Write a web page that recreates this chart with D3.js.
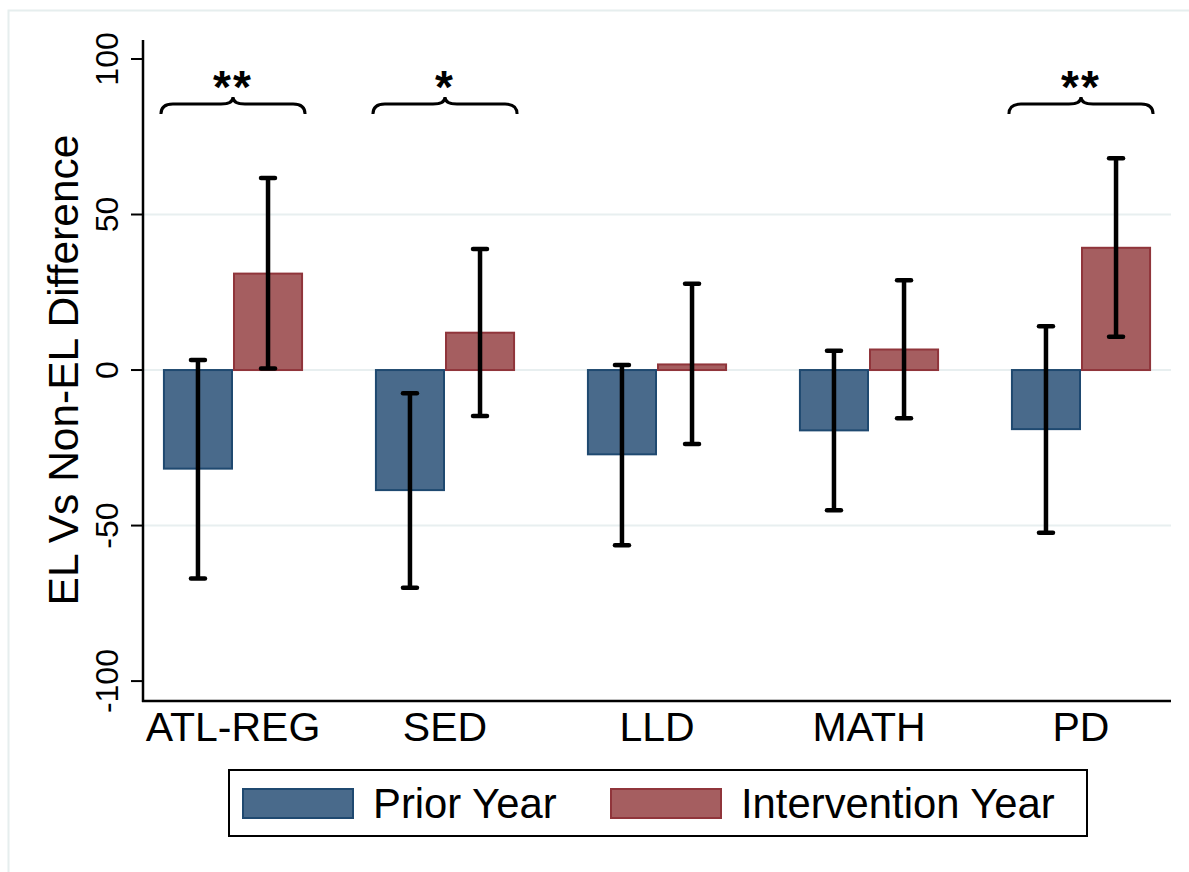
<!DOCTYPE html>
<html>
<head>
<meta charset="utf-8">
<script src="https://cdn.jsdelivr.net/npm/d3@7"></script>
<style>
  html, body { margin: 0; padding: 0; background: #fff; }
  svg { display: block; font-family: "Liberation Sans", Arial, Helvetica, sans-serif; }
</style>
</head>
<body>
<svg id="chart" width="1189" height="872"></svg>
<script>
// ---- data ----
const categories = ["ATL-REG", "SED", "LLD", "MATH", "PD"];
const seriesNames = ["Prior Year", "Intervention Year"];
const priorValues = [-31.7, -38.6, -27.1, -19.4, -19.0];
const priorLow    = [-67.0, -70.0, -56.3, -45.1, -52.3];
const priorHigh   = [3.2, -7.5, 1.6, 6.2, 14.1];
const interValues = [31.0, 12.0, 1.8, 6.6, 39.3];
const interLow    = [0.5, -14.8, -23.8, -15.5, 10.7];
const interHigh   = [61.7, 38.9, 27.7, 28.9, 68.1];
const significance = ["**", "*", "", "", "**"];
const yTicks = [-100, -50, 0, 50, 100];
const yGrid = [-50, 0, 50];
const yTitle = "EL Vs Non-EL Difference";

// ---- layout ----
const svg = d3.select("#chart");
const plot = { left: 143, right: 1171, top: 40, bottom: 701 };
const colors = {
  fill: ["#496a8b", "#a55e60"],
  stroke: ["#1f4970", "#90353b"]
};

// outer faint frame
svg.append("rect").attr("x", 8.5).attr("y", 10.5).attr("width", 1200).attr("height", 900)
  .attr("fill", "none").attr("stroke", "#e6eeee").attr("stroke-width", 2);

const x = d3.scaleBand().domain(categories).range([plot.left, plot.right])
  .paddingInner(0.339).paddingOuter(0.094);
const xs = d3.scaleBand().domain(seriesNames).range([0, x.bandwidth()]);
const y = d3.scaleLinear().domain([-106.4, 106.1]).range([plot.bottom, plot.top]);

// gridlines
svg.append("g").selectAll("line").data(yGrid).join("line")
  .attr("x1", plot.left).attr("x2", plot.right)
  .attr("y1", d => y(d)).attr("y2", d => y(d))
  .attr("stroke", "#e8eff0").attr("stroke-width", 2);

// bars
const rows = categories.map((c, i) => [
  { cat: c, s: 0, v: priorValues[i], lo: priorLow[i], hi: priorHigh[i] },
  { cat: c, s: 1, v: interValues[i], lo: interLow[i], hi: interHigh[i] }
]).flat();

svg.append("g").selectAll("rect").data(rows).join("rect")
  .attr("x", d => x(d.cat) + xs(seriesNames[d.s]) + 1)
  .attr("width", xs.bandwidth() - 2)
  .attr("y", d => Math.min(y(d.v), y(0)))
  .attr("height", d => Math.abs(y(d.v) - y(0)))
  .attr("fill", d => colors.fill[d.s])
  .attr("stroke", d => colors.stroke[d.s])
  .attr("stroke-width", 2);

// error bars
const eb = svg.append("g");
const cx = d => x(d.cat) + xs(seriesNames[d.s]) + xs.bandwidth() / 2;
eb.selectAll("line.v").data(rows).join("line").attr("class", "v")
  .attr("x1", cx).attr("x2", cx)
  .attr("y1", d => y(d.lo)).attr("y2", d => y(d.hi))
  .attr("stroke", "#000").attr("stroke-width", 4.5);
["lo", "hi"].forEach(k => {
  eb.selectAll("line.c" + k).data(rows).join("line").attr("class", "c" + k)
    .attr("x1", d => cx(d) - 7).attr("x2", d => cx(d) + 7)
    .attr("y1", d => y(d[k])).attr("y2", d => y(d[k]))
    .attr("stroke", "#000").attr("stroke-width", 4.5).attr("stroke-linecap", "round");
});

// significance braces
const braceY = 104;
const sigRows = categories.map((c, i) => ({ cat: c, sig: significance[i] })).filter(d => d.sig);
function bracePath(a, b) {
  const m = (a + b) / 2, r = 12, Y = braceY;
  return `M${a},${Y + 10} Q${a},${Y} ${a + r},${Y} L${m - r},${Y} Q${m},${Y} ${m},${Y - 7}` +
         ` Q${m},${Y} ${m + r},${Y} L${b - r},${Y} Q${b},${Y} ${b},${Y + 10}`;
}
svg.append("g").selectAll("path").data(sigRows).join("path")
  .attr("d", d => bracePath(x(d.cat) - 2, x(d.cat) + x.bandwidth() + 2))
  .attr("fill", "none").attr("stroke", "#000").attr("stroke-width", 3);
svg.append("g").selectAll("text").data(sigRows).join("text")
  .attr("x", d => x(d.cat) + x.bandwidth() / 2)
  .attr("y", 103)
  .attr("text-anchor", "middle")
  .attr("font-size", 46).attr("font-weight", "bold").attr("letter-spacing", 2)
  .text(d => d.sig);

// axes
svg.append("line").attr("x1", plot.left).attr("x2", plot.left)
  .attr("y1", plot.top).attr("y2", plot.bottom + 1)
  .attr("stroke", "#000").attr("stroke-width", 2.5);
svg.append("line").attr("x1", plot.left - 1).attr("x2", plot.right)
  .attr("y1", plot.bottom).attr("y2", plot.bottom)
  .attr("stroke", "#000").attr("stroke-width", 2.5);
svg.append("g").selectAll("line").data(yTicks).join("line")
  .attr("x1", plot.left - 12).attr("x2", plot.left)
  .attr("y1", d => y(d)).attr("y2", d => y(d))
  .attr("stroke", "#000").attr("stroke-width", 2);
svg.append("g").selectAll("text").data(yTicks).join("text")
  .attr("transform", d => `translate(118,${y(d)}) rotate(-90)`)
  .attr("text-anchor", "middle")
  .attr("font-size", 32)
  .text(d => d);
svg.append("text")
  .attr("transform", `translate(78,${(y(100) + y(-100)) / 2}) rotate(-90)`)
  .attr("text-anchor", "middle")
  .attr("font-size", 42.5)
  .text(yTitle);

// category labels
svg.append("g").selectAll("text").data(categories).join("text")
  .attr("x", d => x(d) + x.bandwidth() / 2)
  .attr("y", 741)
  .attr("text-anchor", "middle")
  .attr("font-size", 41)
  .text(d => d);

// legend
const lg = svg.append("g");
lg.append("rect").attr("x", 229).attr("y", 770).attr("width", 858).attr("height", 66)
  .attr("fill", "#fff").attr("stroke", "#000").attr("stroke-width", 2);
const legendX = [242, 610];
seriesNames.forEach((s, i) => {
  lg.append("rect").attr("x", legendX[i] + 1).attr("y", 789).attr("width", 110).attr("height", 29)
    .attr("fill", colors.fill[i]).attr("stroke", colors.stroke[i]).attr("stroke-width", 2);
  lg.append("text").attr("x", legendX[i] + 131).attr("y", 818)
    .attr("font-size", 41.8).text(s);
});
</script>
</body>
</html>
